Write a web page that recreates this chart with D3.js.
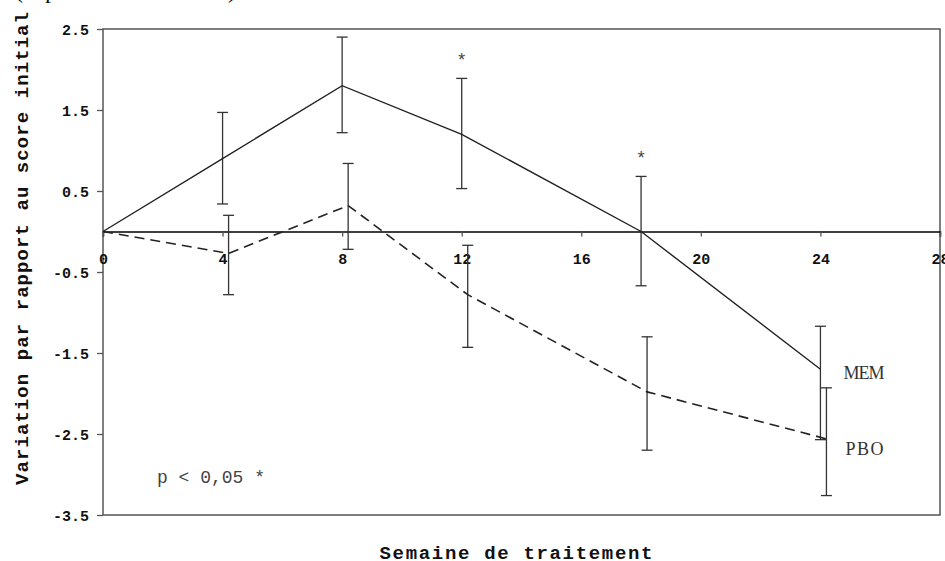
<!DOCTYPE html>
<html>
<head>
<meta charset="utf-8">
<script src="https://cdn.jsdelivr.net/npm/d3@7"></script>
<style>
  html, body { margin: 0; padding: 0; background: #fff; }
  svg { display: block; }
</style>
</head>
<body>
<div id="container"></div>
<script>
// Weeks of treatment
const weeks = [0, 4, 8, 12, 18, 24];

// MEM group (solid line) : mean change and error bar ends
const memMean = [0, 0.9, 1.8, 1.2, 0, -1.7];
const memLow  = [null, 0.34, 1.22, 0.53, -0.67, -2.57];
const memHigh = [null, 1.47, 2.4, 1.89, 0.68, -1.17];

// PBO group (dashed line)
const pboMean = [0, -0.27, 0.32, -0.78, -1.98, -2.56];
const pboLow  = [null, -0.78, -0.22, -1.43, -2.7, -3.26];
const pboHigh = [null, 0.2, 0.84, -0.17, -1.3, -1.93];

// weeks with p < 0,05
const sigWeeks = [12, 18];

// axis ticks
const xTicks = [0, 4, 8, 12, 16, 20, 24, 28];
const yTicks = [2.5, 1.5, 0.5, -0.5, -1.5, -2.5, -3.5];

const width = 945;
const height = 561;
const plot = { left: 103, right: 940, top: 29, bottom: 515 };
const mono = '"Liberation Mono", "Courier New", monospace';
const serif = '"Liberation Serif", "Times New Roman", serif';

const svg = d3.select('#container').append('svg')
    .attr('width', width)
    .attr('height', height);

//Scales
const xScale = d3.scaleLinear().domain([0, 28]).range([plot.left, plot.right]);
const yScale = d3.scaleLinear().domain([-3.5, 2.5]).range([plot.bottom, plot.top]);

// small dodge so the PBO bars sit beside the MEM bars
const dodge = 6;

//Clipped line of text from above the figure (only descenders show)
svg.append('g')
    .style('font-family', serif)
    .style('font-size', '24px')
    .attr('fill', '#111')
    .selectAll('text')
    .data([['(', 15], ['p', 45], [')', 228]])
    .enter()
    .append('text')
    .attr('x', d => d[1])
    .attr('y', -2)
    .text(d => d[0]);

//Frame
svg.append('rect')
    .attr('x', plot.left)
    .attr('y', plot.top)
    .attr('width', plot.right - plot.left)
    .attr('height', plot.bottom - plot.top)
    .attr('fill', 'none')
    .attr('stroke', '#555')
    .attr('stroke-width', 1.5);

//Y-Axis
const yAxis = svg.append('g')
    .attr('transform', 'translate(' + plot.left + ',0)')
    .call(d3.axisLeft(yScale)
        .tickValues(yTicks)
        .tickSize(6)
        .tickPadding(8)
        .tickFormat(d => d.toFixed(1)));
yAxis.select('.domain').remove();
yAxis.selectAll('line').attr('stroke', '#555').attr('stroke-width', 1.3);
yAxis.selectAll('text')
    .style('font-family', mono)
    .style('font-size', '15px')
    .style('font-weight', 'bold')
    .attr('fill', '#111')
    .attr('dy', '0.36em');

//X-Axis along zero
const xAxis = svg.append('g')
    .attr('transform', 'translate(0,' + yScale(0) + ')')
    .call(d3.axisBottom(xScale)
        .tickValues(xTicks)
        .tickSize(5)
        .tickPadding(17)
        .tickFormat(d3.format('d')));
xAxis.select('.domain')
    .attr('stroke', '#000')
    .attr('stroke-width', 1.4);
xAxis.selectAll('line').attr('stroke', '#555').attr('stroke-width', 1.3);
xAxis.selectAll('text')
    .style('font-family', mono)
    .style('font-size', '15px')
    .style('font-weight', 'bold')
    .attr('fill', '#111');

//Axis titles
svg.append('text')
    .attr('transform', 'translate(28,248.5) rotate(-90)')
    .attr('text-anchor', 'middle')
    .attr('textLength', 473)
    .attr('lengthAdjust', 'spacing')
    .style('font-family', mono)
    .style('font-size', '19px')
    .style('font-weight', 'bold')
    .attr('fill', '#111')
    .text('Variation par rapport au score initial');

svg.append('text')
    .attr('x', 516)
    .attr('y', 559)
    .attr('text-anchor', 'middle')
    .attr('textLength', 273)
    .attr('lengthAdjust', 'spacing')
    .style('font-family', mono)
    .style('font-size', '19px')
    .style('font-weight', 'bold')
    .attr('fill', '#111')
    .text('Semaine de traitement');

//Build rows for each group
const memRows = weeks.map((w, i) => ({ w, m: memMean[i], lo: memLow[i], hi: memHigh[i], dx: 0 }));
const pboRows = weeks.map((w, i) => ({ w, m: pboMean[i], lo: pboLow[i], hi: pboHigh[i], dx: w > 0 ? dodge : 0 }));

const line = d3.line()
    .x(d => xScale(d.w) + d.dx)
    .y(d => yScale(d.m));

function drawBars(rows, cls) {
    const g = svg.append('g').attr('class', cls)
        .attr('stroke', '#333')
        .attr('stroke-width', 1.3);
    const bars = rows.filter(d => d.lo !== null);
    g.selectAll('line.stem')
        .data(bars)
        .enter()
        .append('line')
        .attr('class', 'stem')
        .attr('x1', d => xScale(d.w) + d.dx)
        .attr('x2', d => xScale(d.w) + d.dx)
        .attr('y1', d => yScale(d.hi))
        .attr('y2', d => yScale(d.lo));
    ['hi', 'lo'].forEach(k => {
        g.selectAll('line.cap-' + k)
            .data(bars)
            .enter()
            .append('line')
            .attr('class', 'cap-' + k)
            .attr('x1', d => xScale(d.w) + d.dx - 5.5)
            .attr('x2', d => xScale(d.w) + d.dx + 5.5)
            .attr('y1', d => yScale(d[k]))
            .attr('y2', d => yScale(d[k]));
    });
}

drawBars(memRows, 'mem-bars');
drawBars(pboRows, 'pbo-bars');

//MEM line
svg.append('path')
    .datum(memRows)
    .attr('d', line)
    .attr('fill', 'none')
    .attr('stroke', '#222')
    .attr('stroke-width', 1.4);

//PBO line
svg.append('path')
    .datum(pboRows)
    .attr('d', line)
    .attr('fill', 'none')
    .attr('stroke', '#222')
    .attr('stroke-width', 1.6)
    .attr('stroke-dasharray', '10,6');

//Significance stars
svg.selectAll('text.star')
    .data(memRows.filter(d => sigWeeks.includes(d.w)))
    .enter()
    .append('text')
    .attr('class', 'star')
    .attr('x', d => xScale(d.w))
    .attr('y', d => yScale(d.hi) - 12)
    .attr('text-anchor', 'middle')
    .style('font-family', mono)
    .style('font-size', '18px')
    .attr('fill', '#444')
    .text('*');

//Series labels
const last = weeks.length - 1;
svg.append('text')
    .attr('x', xScale(weeks[last]) + 23)
    .attr('y', yScale(memMean[last]) + 10)
    .style('font-family', serif)
    .style('font-size', '18px')
    .attr('textLength', 41)
    .attr('fill', '#333')
    .text('MEM');

svg.append('text')
    .attr('x', xScale(weeks[last]) + 25)
    .attr('y', yScale(pboMean[last]) + 16)
    .style('font-family', serif)
    .style('font-size', '18px')
    .attr('textLength', 38)
    .attr('fill', '#333')
    .text('PBO');

//p value note
svg.append('text')
    .attr('x', 157)
    .attr('y', 483)
    .style('font-family', mono)
    .style('font-size', '18px')
    .attr('fill', '#444')
    .text('p < 0,05 *');
</script>
</body>
</html>
